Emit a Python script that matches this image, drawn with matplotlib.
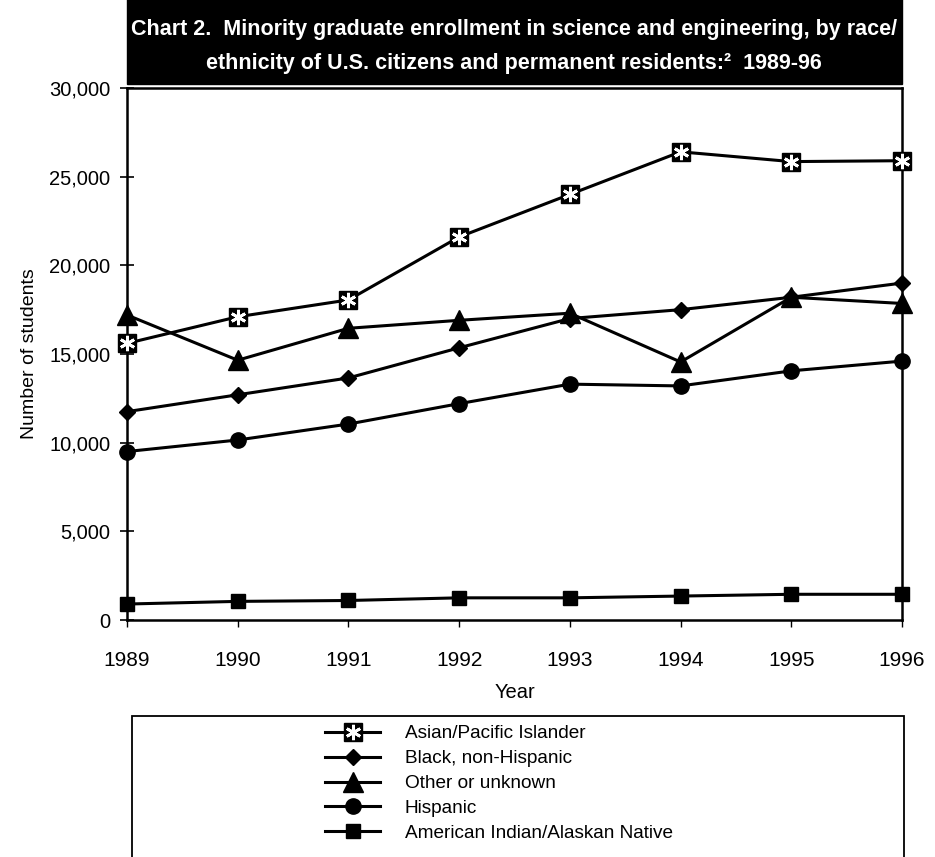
import numpy as np
import matplotlib
matplotlib.use("Agg")
import matplotlib.pyplot as plt
from matplotlib import font_manager
from matplotlib.patches import Rectangle
from matplotlib.lines import Line2D

# data (number of students)
years = [1989, 1990, 1991, 1992, 1993, 1994, 1995, 1996]
asian = [15600, 17100, 18050, 21600, 24000, 26400, 25850, 25900]
black = [11750, 12700, 13650, 15350, 17000, 17500, 18200, 19000]
other = [17200, 14650, 16450, 16900, 17300, 14550, 18200, 17850]
hispanic = [9500, 10150, 11050, 12200, 13300, 13200, 14050, 14600]
amind = [900, 1050, 1100, 1250, 1250, 1350, 1450, 1450]
labels = ["Asian/Pacific Islander", "Black, non-Hispanic", "Other or unknown",
          "Hispanic", "American Indian/Alaskan Native"]
yticks = [0, 5000, 10000, 15000, 20000, 25000, 30000]

names = {f.name for f in font_manager.fontManager.ttflist}
base = "Liberation Sans" if "Liberation Sans" in names else "DejaVu Sans"
plt.rcParams["font.family"] = [base, "DejaVu Sans"]

W, H = 935, 857
fig = plt.figure(figsize=(W / 100, H / 100), dpi=100)
ax = fig.add_axes([127 / W, 1 - 620 / H, (902 - 127) / W, (620 - 88) / H])

lw = 2.2
ax.plot(years, amind, color="black", lw=lw, marker="s", ms=10, zorder=3)
ax.plot(years, hispanic, color="black", lw=lw, marker="o", ms=11, zorder=3)
ax.plot(years, other, color="black", lw=lw, marker="^", ms=14, zorder=3)
ax.plot(years, black, color="black", lw=lw, marker="D", ms=8, zorder=3)
ax.plot(years, asian, color="black", lw=lw, marker="s", ms=13, zorder=4)
ax.plot(years, asian, ls="none", marker=(6, 2, 0), ms=11, mec="white", mew=2, zorder=5)

ax.set_xlim(1989, 1996)
ax.set_ylim(0, 30000)
ax.set_xticks(years)
ax.set_yticks(yticks)
ax.set_yticklabels([f"{v:,}" for v in yticks])
for s in ax.spines.values():
    s.set_linewidth(1.8)
ax.tick_params(axis="y", direction="inout", length=10, width=1.2, labelsize=14.5, pad=7)
ax.tick_params(axis="x", direction="out", length=5, width=1, labelsize=15, pad=17)
ax.set_xlabel("Year", fontsize=14.5, labelpad=10)
ax.set_ylabel("Number of students", fontsize=14, labelpad=8)
for ln in ax.lines:
    ln.set_clip_on(False)

# title block
fig.patches.append(Rectangle((127 / W, 1 - 84 / H), (902 - 127) / W, 84 / H + 0.01,
                             transform=fig.transFigure, color="black", zorder=0))
fig.text(514 / W, 1 - 29 / H, "Chart 2.  Minority graduate enrollment in science and engineering, by race/",
         color="white", fontsize=15.5, fontweight="bold", ha="center", va="center")
fig.text(514 / W, 1 - 64 / H, "ethnicity of U.S. citizens and permanent residents:\u00b2  1989-96",
         color="white", fontsize=15.5, fontweight="bold", ha="center", va="center")

# legend box (bottom edge runs off the page)
fig.patches.append(Rectangle((132 / W, -0.05), (904 - 132) / W, 0.05 + 1 - 716 / H,
                             transform=fig.transFigure, fill=False, ec="black", lw=1.3))
handles = [(Line2D([], [], color="black", lw=lw, marker="s", ms=13),
            Line2D([], [], ls="none", marker=(6, 2, 0), ms=11, mec="white", mew=2)),
           ax.lines[3], ax.lines[2], ax.lines[1], ax.lines[0]]
fig.legend(handles, labels, loc="upper left", bbox_to_anchor=(325 / W, 1 - 725 / H),
           frameon=False, fontsize=13.7, handlelength=2.9, handletextpad=1.3,
           labelspacing=0.4, borderpad=0, borderaxespad=0)

fig.savefig("out.png", dpi=100)
